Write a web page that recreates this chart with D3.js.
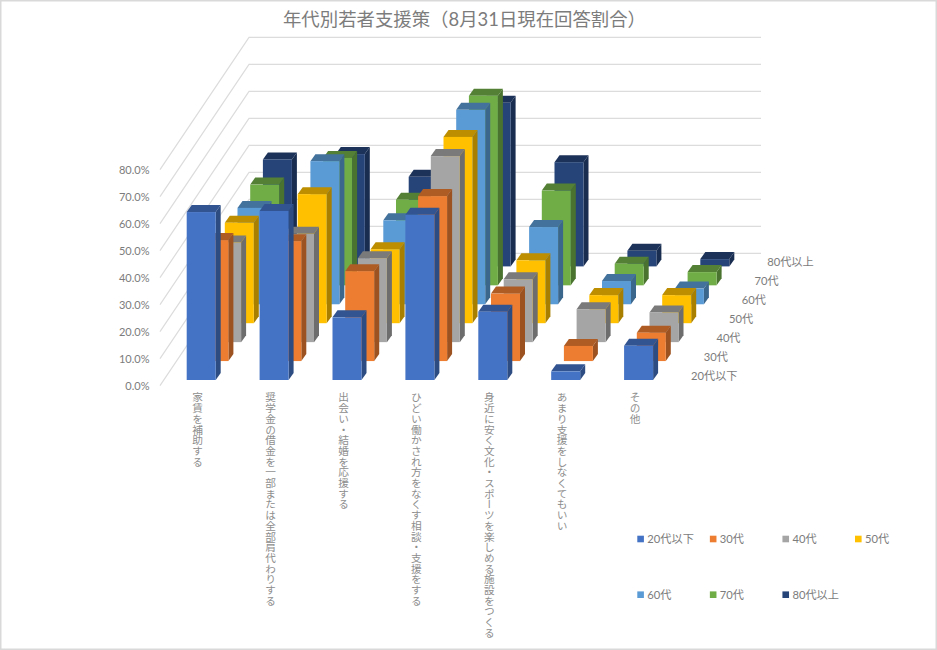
<!DOCTYPE html>
<html lang="ja">
<head>
<meta charset="utf-8">
<script src="https://cdn.jsdelivr.net/npm/d3@7/dist/d3.min.js"></script>
<style>
html,body{margin:0;padding:0;background:#fff;}
svg{display:block;}
text{font-family:Lato,"Noto Sans CJK JP",sans-serif;fill:#7c7c7c;}
</style>
</head>
<body>
<svg id="c" width="937" height="650"></svg>
<script>
const chartTitle = "年代別若者支援策（8月31日現在回答割合）";
const categories = ["家賃を補助する","奨学金の借金を一部または全部肩代わりする","出会い・結婚を応援する","ひどい働かされ方をなくす相談・支援をする","身近に安く文化・スポーツを楽しめる施設をつくる","あまり支援をしなくてもいい","その他"];
const seriesNames = ["20代以下","30代","40代","50代","60代","70代","80代以上"];
const seriesColors = ["#4472C4","#ED7D31","#A5A5A5","#FFC000","#5B9BD5","#70AD47","#264478"];
const age20 = [62.2,62.6,23.2,61.2,25.3,3.2,12.7];
const age30 = [44.8,44.4,33.3,61.1,25.0,5.6,10.5];
const age40 = [36.9,40.1,31.1,68.9,23.3,12.2,11.0];
const age50 = [37.2,47.8,27.4,69.0,23.3,10.4,10.4];
const age60 = [35.7,53.0,31.1,72.0,28.6,8.6,5.8];
const age70 = [37.3,47.2,31.7,70.2,35.1,8.0,4.9];
const age80 = [39.6,41.6,33.2,60.6,38.6,5.8,2.7];
const seriesValues = [age20,age30,age40,age50,age60,age70,age80];
const yTicks = [0,10,20,30,40,50,60,70,80];

const svg = d3.select("#c");
svg.append("rect").attr("x",0.75).attr("y",0.75).attr("width",935.5).attr("height",648.5)
  .attr("fill","#fff").attr("stroke","#d9d9d9").attr("stroke-width",1.5);

// oblique projection
const xCat = d3.scalePoint(categories,[186.7,186.7+72.9*6]);
const depthX = d3.scalePoint(seriesNames,[0,76.2]);
const depthY = d3.scalePoint(seriesNames,[380,266.4]);
const yHeight = d3.scaleLinear([0,80],[0,216]);
const yFront = d3.scaleLinear([0,80],[385.6,169.6]);
const barW = 29, faceDx = 5, faceDy = -7;
const wallDx = 89, wallDy = -132.3, wallRight = 761;

// gridlines
const grid = svg.append("g").attr("fill","none").attr("stroke","#dcdcdc").attr("stroke-width",1.2);
grid.selectAll("path").data(yTicks).join("path").attr("d",t=>{
  const p = d3.path(), y = yFront(t);
  p.moveTo(160,y); p.lineTo(160+wallDx,y+wallDy); p.lineTo(wallRight,y+wallDy);
  return p.toString();
});

// y axis labels
const axis = svg.append("g").attr("transform","translate(149.5,0)")
  .call(d3.axisLeft(yFront).tickValues(yTicks).tickSize(0).tickPadding(0).tickFormat(d=>d3.format(".1f")(d)+"%"));
axis.select(".domain").remove();
axis.selectAll("text").style("font-family",'Lato,"Noto Sans CJK JP",sans-serif').style("font-size","11px").style("fill","#7c7c7c");

// bars, back to front
seriesNames.slice().reverse().forEach(name=>{
  const si = seriesNames.indexOf(name), col = seriesColors[si], base = depthY(name), dx = depthX(name);
  const g = svg.append("g");
  categories.forEach((cat,ci)=>{
    const v = seriesValues[si][ci], x = xCat(cat)+dx, h = yHeight(v), top = base-h;
    const bar = g.append("g");
    const poly = pts=>pts.map(p=>p.join(",")).join(" ");
    bar.append("polygon").attr("fill",d3.rgb(col).darker(1.15).formatHex())
      .attr("points",poly([[x+barW,top],[x+barW+faceDx,top+faceDy],[x+barW+faceDx,base+faceDy],[x+barW,base]]));
    bar.append("polygon").attr("fill",d3.rgb(col).darker(0.85).formatHex())
      .attr("points",poly([[x,top],[x+faceDx,top+faceDy],[x+barW+faceDx,top+faceDy],[x+barW,top]]));
    bar.append("rect").attr("x",x).attr("y",top).attr("width",barW).attr("height",h).attr("fill",col);
  });
});

// category labels
svg.append("g").selectAll("text").data(categories).join("text")
  .attr("x",c=>xCat(c)+11).attr("y",392)
  .style("writing-mode","vertical-rl").style("font-size","10.7px").style("fill","#8e8e8e")
  .attr("dominant-baseline","central")
  .text(c=>c);

// depth axis labels
svg.append("g").selectAll("text").data(seriesNames).join("text")
  .attr("x",n=>691+depthX(n)).attr("y",n=>depthY(n)-4).attr("dy","0.35em")
  .style("font-size","11.2px").text(n=>n);

// legend
const legendX = d3.scalePoint([0,1,2,3],[637.3,855]);
const legendY = d3.scalePoint([0,1],[539,594.7]);
const legend = svg.append("g").selectAll("g").data(seriesNames).join("g")
  .attr("transform",(n,i)=>`translate(${legendX(i%4)},${legendY(Math.floor(i/4))})`);
legend.append("rect").attr("x",0).attr("y",-3.3).attr("width",6.6).attr("height",6.6).attr("fill",(n,i)=>seriesColors[i]);
legend.append("text").attr("x",10).attr("dy","0.35em").style("font-size","11.2px").text(n=>n);

// title
svg.append("text").attr("x",464.5).attr("y",25.5).attr("text-anchor","middle")
  .style("font-size","18.4px").style("fill","#7c7c7c").text(chartTitle);
</script>
</body>
</html>
